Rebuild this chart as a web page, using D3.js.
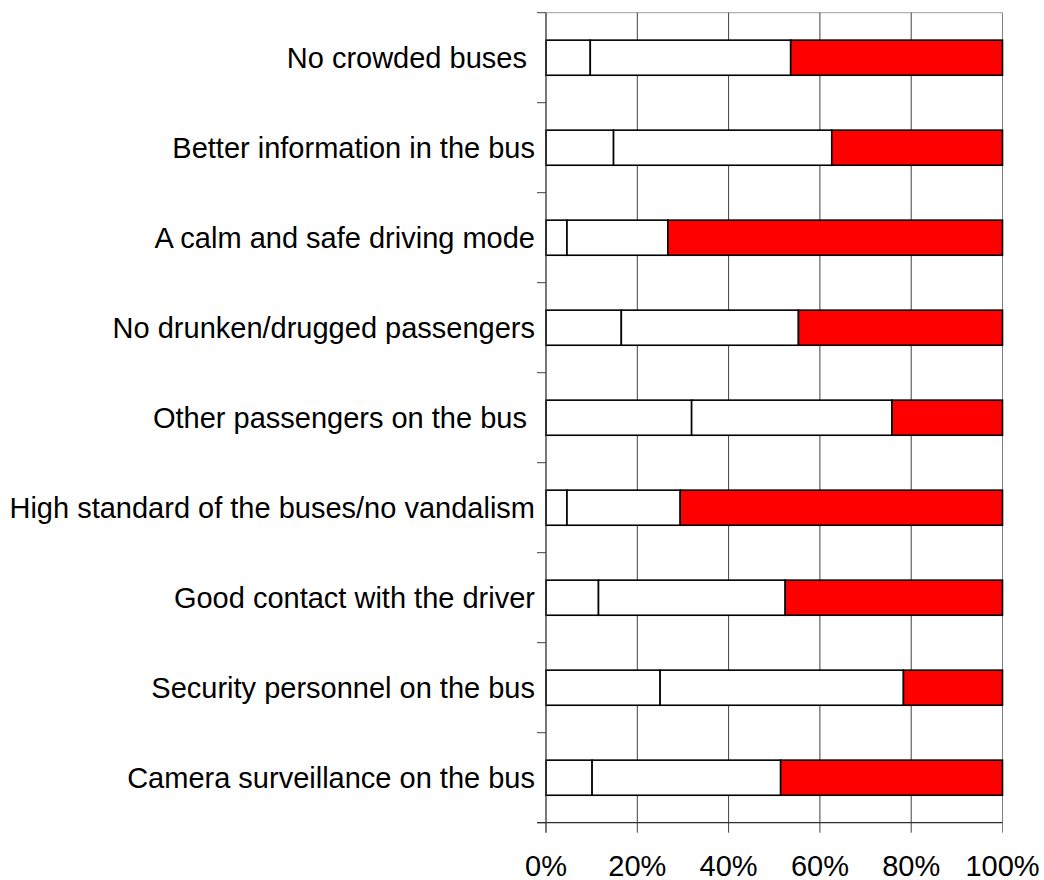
<!DOCTYPE html>
<html>
<head>
<meta charset="utf-8">
<script src="https://cdn.jsdelivr.net/npm/d3@7/dist/d3.min.js"></script>
<style>
  html, body { margin: 0; padding: 0; background: #fff; }
  svg { display: block; }
  text { font-family: "Liberation Sans", Arial, sans-serif; fill: #000; }
</style>
</head>
<body>
<svg id="chart" width="1044" height="880"></svg>
<script>
const categories = [
  "No crowded buses ",
  "Better information in the bus",
  "A calm and safe driving mode",
  "No drunken/drugged passengers",
  "Other passengers on the bus ",
  "High standard of the buses/no vandalism",
  "Good contact with the driver",
  "Security personnel on the bus",
  "Camera surveillance on the bus"
];
// three stacked shares (percent) per category
const series1 = [9.7, 14.8, 4.6, 16.5, 31.9, 4.6, 11.5, 25.0, 10.1];
const series2 = [43.9, 47.8, 22.1, 38.8, 43.9, 24.8, 40.9, 53.3, 41.3];
const series3 = [46.4, 37.4, 73.3, 44.7, 24.2, 70.6, 47.6, 21.7, 48.6];
const seriesColors = ["#ffffff", "#ffffff", "#ff0000"];
const xTicks = [0, 20, 40, 60, 80, 100];

const svg = d3.select("#chart");
const mLeft = 546, mRight = 1002.5, mTop = 12.7, mBottom = 822.7;

const x = d3.scaleLinear().domain([0, 100]).range([mLeft, mRight]);
const y = d3.scaleBand().domain(categories).range([mTop, mBottom])
  .paddingInner(0.61).paddingOuter(0.305);

// category boundary positions (ticks)
const step = y.step();
const bounds = d3.range(categories.length + 1).map(i => mTop + i * step);

// top light border
svg.append("line")
  .attr("x1", mLeft).attr("x2", mRight)
  .attr("y1", mTop).attr("y2", mTop)
  .attr("stroke", "#a0a0a0").attr("stroke-width", 1);

// vertical gridlines
svg.append("g").selectAll("line").data(xTicks.slice(1)).join("line")
  .attr("x1", d => x(d)).attr("x2", d => x(d))
  .attr("y1", mTop).attr("y2", mBottom + 10)
  .attr("stroke", d => d === 100 ? "#808080" : "#404040")
  .attr("stroke-width", 1);

// stacked bars
const stackData = categories.map((c, i) => ({ cat: c, s0: series1[i], s1: series2[i], s2: series3[i] }));
const stack = d3.stack().keys(["s0", "s1", "s2"]);
const layers = stack(stackData);

svg.append("g").selectAll("g").data(layers).join("g")
  .attr("fill", (d, i) => seriesColors[i])
  .selectAll("rect").data(d => d).join("rect")
  .attr("x", d => x(d[0]))
  .attr("width", d => x(Math.min(d[1], 100)) - x(d[0]))
  .attr("y", d => y(d.data.cat))
  .attr("height", y.bandwidth())
  .attr("stroke", "#000")
  .attr("stroke-width", 1.6);

// left axis line and ticks
svg.append("line")
  .attr("x1", mLeft).attr("x2", mLeft)
  .attr("y1", mTop).attr("y2", mBottom + 10)
  .attr("stroke", "#303030").attr("stroke-width", 1.3);
svg.append("g").selectAll("line").data(bounds).join("line")
  .attr("x1", mLeft - 9).attr("x2", mLeft)
  .attr("y1", d => d).attr("y2", d => d)
  .attr("stroke", "#404040").attr("stroke-width", 1);

// bottom axis line
svg.append("line")
  .attr("x1", mLeft - 9).attr("x2", mRight)
  .attr("y1", mBottom).attr("y2", mBottom)
  .attr("stroke", "#303030").attr("stroke-width", 1.3);

// category labels
svg.append("g").selectAll("text").data(categories).join("text")
  .attr("x", 535)
  .attr("y", d => y(d) + y.bandwidth() / 2)
  .attr("dy", "0.36em")
  .attr("text-anchor", "end")
  .attr("font-size", "29px")
  .style("white-space", "pre")
  .text(d => d);

// x tick labels
svg.append("g").selectAll("text").data(xTicks).join("text")
  .attr("x", d => x(d))
  .attr("y", 876)
  .attr("text-anchor", "middle")
  .attr("font-size", "29px")
  .text(d => d + "%");
</script>
</body>
</html>
